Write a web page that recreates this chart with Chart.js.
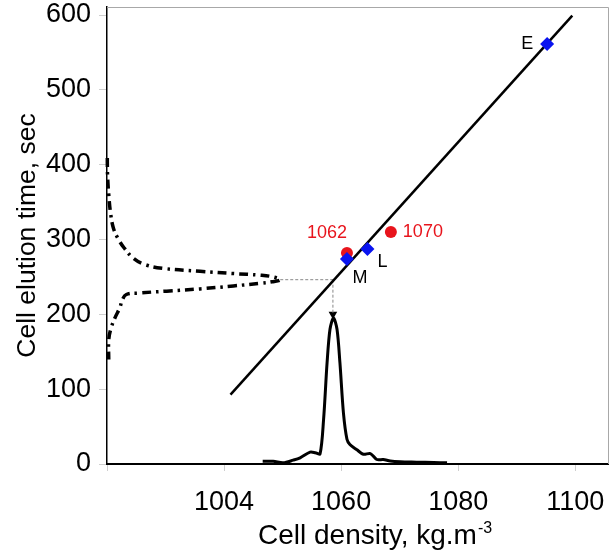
<!DOCTYPE html>
<html>
<head>
<meta charset="utf-8">
<script src="https://cdn.jsdelivr.net/npm/chart.js@4.4.0/dist/chart.umd.min.js"></script>
<style>
	html, body { margin: 0; padding: 0; background: #fff; }
	#wrap { width: 615px; height: 557px; }
</style>
</head>
<body>
<div id="wrap"><canvas id="myChart" width="615" height="557"></canvas></div>
<script>
// axis ticks
const xTickValues = [1020, 1040, 1060, 1080, 1100];
const xTickLabels = ["", "1004", "1060", "1080", "1100"];
const yTickValues = [0, 100, 200, 300, 400, 500, 600];

// fitted calibration line (density vs elution time)
const fitLine = [
	{ x: 1041.1, y: 92.8 },
	{ x: 1099.5, y: 599.2 },
];

// blue markers M, L, E
const cellLabels = ["M", "L", "E"];
const cellPoints = [
	{ x: 1061.0, y: 274 },
	{ x: 1064.5, y: 287.3 },
	{ x: 1095.2, y: 561.4 },
];

// red density marker beads
const beadLabels = ["1062", "1070"];
const beadPoints = [
	{ x: 1061.0, y: 282 },
	{ x: 1068.5, y: 310 },
];

// elution profile (dash-dot, drawn sideways along the time axis)
const elutionProfile = [
	{ x: 1020.05, y: 408.8 }, { x: 1020.1, y: 385 }, { x: 1020.3, y: 360 },
	{ x: 1020.6, y: 335.8 }, { x: 1021.1, y: 315 }, { x: 1021.9, y: 301 },
	{ x: 1022.9, y: 289 }, { x: 1024.5, y: 275 }, { x: 1026.5, y: 266.5 },
	{ x: 1029.5, y: 261.5 }, { x: 1035.9, y: 257.5 }, { x: 1041.6, y: 254.5 },
	{ x: 1046.2, y: 252.3 }, { x: 1048.4, y: 250 }, { x: 1049.6, y: 246.3 },
	{ x: 1048.2, y: 243.5 }, { x: 1046.2, y: 241.5 }, { x: 1041.6, y: 238 },
	{ x: 1035.9, y: 234 }, { x: 1030.2, y: 231 }, { x: 1025.5, y: 228.5 },
	{ x: 1023.3, y: 226.5 }, { x: 1022.6, y: 219 }, { x: 1022.2, y: 209 },
	{ x: 1021.4, y: 196 }, { x: 1020.7, y: 181.8 }, { x: 1020.3, y: 166.2 },
	{ x: 1020.3, y: 139.5 },
];

// density distribution (solid peak along the density axis)
const densityProfile = [
	{ x: 1046.6, y: 3.7 }, { x: 1048.4, y: 3.7 }, { x: 1050.1, y: 1.6 },
	{ x: 1051.8, y: 5.1 }, { x: 1053.0, y: 8.3 }, { x: 1054.7, y: 15.8 },
	{ x: 1055.6, y: 15.0 }, { x: 1056.4, y: 13.6 }, { x: 1057.0, y: 59 },
	{ x: 1057.6, y: 135 }, { x: 1058.1, y: 180 }, { x: 1058.7, y: 195 },
	{ x: 1059.3, y: 180 }, { x: 1059.8, y: 135 }, { x: 1060.4, y: 68 },
	{ x: 1061.0, y: 33 }, { x: 1061.5, y: 26 }, { x: 1062.7, y: 19 },
	{ x: 1063.8, y: 13 }, { x: 1065.0, y: 14 }, { x: 1066.1, y: 6 },
	{ x: 1067.2, y: 6 }, { x: 1068.4, y: 4 }, { x: 1070.1, y: 3 },
	{ x: 1072.9, y: 2.5 }, { x: 1075.8, y: 2 }, { x: 1078.1, y: 1.6 },
];

// projection from elution peak onto the line and down to the density axis
const guideH = [{ x: 1049.6, y: 246.3 }, { x: 1058.6, y: 246.3 }];
const guideV = [{ x: 1058.6, y: 246.3 }, { x: 1058.6, y: 200 }];
const arrowTip = [{ x: 1058.6, y: 200 }];

const FONT = "'Liberation Sans', Arial, sans-serif";

const labelPlugin = {
	id: "labels",
	afterDatasetsDraw(chart) {
		const ctx = chart.ctx;
		const xs = chart.scales.x, ys = chart.scales.y;
		ctx.save();
		ctx.font = "18px " + FONT;
		ctx.textBaseline = "middle";
		// bead labels
		ctx.fillStyle = "#e8141c";
		const b0 = beadPoints[0], b1 = beadPoints[1];
		ctx.textAlign = "center";
		ctx.fillText(beadLabels[0], xs.getPixelForValue(b0.x) - 20, ys.getPixelForValue(b0.y) - 20);
		ctx.textAlign = "left";
		ctx.fillText(beadLabels[1], xs.getPixelForValue(b1.x) + 12, ys.getPixelForValue(b1.y));
		// cell labels
		ctx.fillStyle = "#000";
		ctx.textAlign = "center";
		const offs = [[13, 19], [15, 13], [-20, 0]];
		cellPoints.forEach((p, i) => {
			ctx.fillText(cellLabels[i], xs.getPixelForValue(p.x) + offs[i][0], ys.getPixelForValue(p.y) + offs[i][1]);
		});
		ctx.restore();
	},
	afterDraw(chart) {
		const ctx = chart.ctx;
		const a = chart.chartArea;
		ctx.save();
		// light frame on top and right
		ctx.strokeStyle = "#a8a8a8";
		ctx.lineWidth = 1;
		ctx.beginPath();
		ctx.moveTo(a.left, a.top + 0.5);
		ctx.lineTo(a.right + 0.5, a.top + 0.5);
		ctx.lineTo(a.right + 0.5, a.bottom);
		ctx.stroke();
		// x axis title with superscript
		ctx.fillStyle = "#000";
		ctx.textBaseline = "alphabetic";
		ctx.textAlign = "left";
		ctx.font = "28px " + FONT;
		const t = "Cell density, kg.m";
		const w = ctx.measureText(t).width;
		const x0 = 258;
		ctx.fillText(t, x0, 544);
		ctx.font = "16px " + FONT;
		ctx.fillText("-3", x0 + w + 1, 533);
		ctx.restore();
	},
};

new Chart(document.getElementById("myChart"), {
	type: "scatter",
	data: {
		datasets: [
			{
				data: cellPoints,
				pointStyle: "rectRot",
				pointRadius: 7,
				backgroundColor: "#0a14f0",
				borderColor: "#0a14f0",
				borderWidth: 0,
				order: 0,
			},
			{
				data: beadPoints,
				pointStyle: "circle",
				pointRadius: 6,
				backgroundColor: "#e8141c",
				borderColor: "#e8141c",
				borderWidth: 0,
				order: 1,
			},
			{
				data: fitLine,
				showLine: true,
				borderColor: "#000",
				borderWidth: 2.5,
				pointRadius: 0,
				order: 2,
			},
			{
				data: densityProfile,
				showLine: true,
				borderColor: "#000",
				borderWidth: 3,
				pointRadius: 0,
				tension: 0.3,
				order: 3,
			},
			{
				data: elutionProfile,
				showLine: true,
				borderColor: "#000",
				borderWidth: 3.5,
				borderDash: [9, 5, 2.5, 5],
				pointRadius: 0,
				tension: 0.4,
				clip: 6,
				order: 4,
			},
			{
				data: guideH,
				showLine: true,
				borderColor: "#888",
				borderWidth: 1,
				borderDash: [3, 2],
				pointRadius: 0,
				order: 5,
			},
			{
				data: guideV,
				showLine: true,
				borderColor: "#888",
				borderWidth: 1,
				borderDash: [3, 2],
				pointRadius: 0,
				order: 5,
			},
			{
				data: arrowTip,
				pointStyle: "triangle",
				rotation: 180,
				pointRadius: 5,
				backgroundColor: "#000",
				borderColor: "#000",
				borderWidth: 0,
				order: 5,
			},
		],
	},
	options: {
		responsive: false,
		animation: false,
		layout: { padding: { top: 7, right: 7, left: 0, bottom: 0 } },
		plugins: {
			legend: { display: false },
			tooltip: { enabled: false },
		},
		scales: {
			x: {
				type: "linear",
				min: 1020,
				max: 1105.6,
				afterFit: (s) => {
					s.height = 93;
					s.paddingLeft = 0;
					s.paddingRight = 0;
				},
				afterBuildTicks: (s) => { s.ticks = xTickValues.map((v) => ({ value: v })); },
				ticks: {
					font: { family: FONT, size: 27 },
					color: "#000",
					padding: 15,
					maxRotation: 0,
					callback: (v) => xTickLabels[xTickValues.indexOf(v)],
				},
				grid: { drawOnChartArea: false, drawTicks: true, tickLength: 7, color: "#cfcfcf" },
				border: { display: true, color: "#000", width: 2 },
				title: { display: false },
			},
			y: {
				type: "linear",
				min: 0,
				max: 610.7,
				afterFit: (s) => {
					s.width = 107;
					s.paddingTop = 0;
					s.paddingBottom = 0;
				},
				afterBuildTicks: (s) => { s.ticks = yTickValues.map((v) => ({ value: v })); },
				ticks: {
					font: { family: FONT, size: 27 },
					color: "#000",
					padding: 8,
				},
				grid: { drawOnChartArea: false, drawTicks: true, tickLength: 8, color: "#cfcfcf" },
				border: { display: true, color: "#000", width: 1.5 },
				title: {
					display: true,
					text: "Cell elution time, sec",
					font: { family: FONT, size: 26.5 },
					color: "#000",
					padding: { top: 12, bottom: 0 },
				},
			},
		},
	},
	plugins: [labelPlugin],
});
</script>
</body>
</html>
